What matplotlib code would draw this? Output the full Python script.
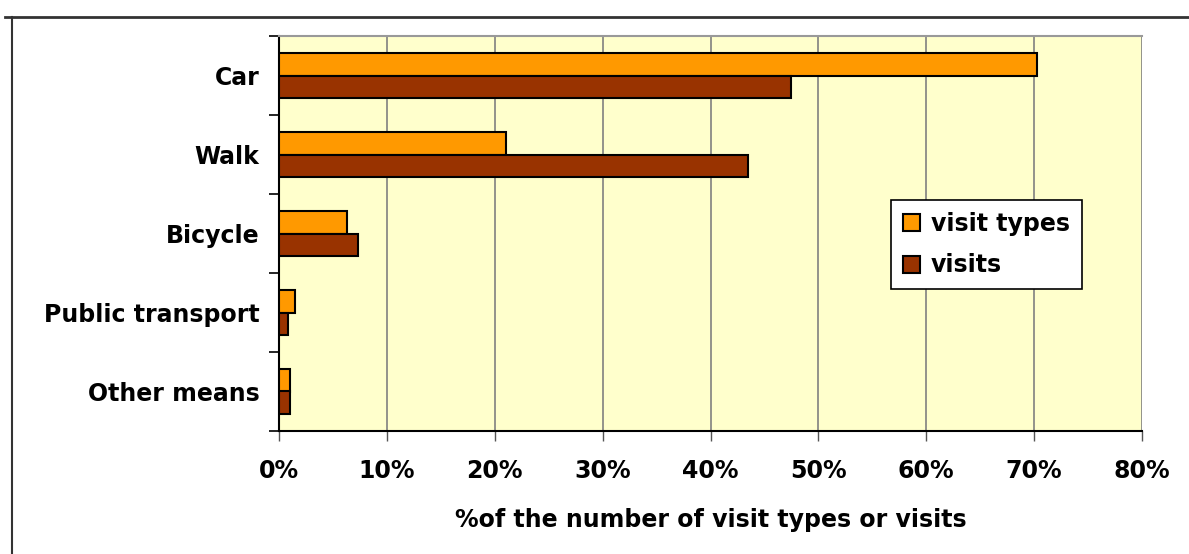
import numpy as np
import matplotlib.pyplot as plt
from matplotlib.lines import Line2D

categories = ['Car', 'Walk', 'Bicycle', 'Public transport', 'Other means']
visit_types = [70.3, 21.0, 6.3, 1.5, 1.0]
visits = [47.5, 43.5, 7.3, 0.8, 1.0]

plt.rcParams['font.family'] = ['DejaVu Sans']

fig = plt.figure(figsize=(11.89, 5.54), dpi=100)
ax = fig.add_axes([279 / 1189, 123 / 554, 863 / 1189, 395 / 554])
ax.set_facecolor('#FFFFCC')

y = np.arange(len(categories))
h = 0.28
ax.barh(y - h / 2, visit_types, height=h, color='#FF9900', edgecolor='black',
        linewidth=1.5, label='visit types', zorder=3)
ax.barh(y + h / 2, visits, height=h, color='#993300', edgecolor='black',
        linewidth=1.5, label='visits', zorder=3)

ax.set_xlim(0, 80)
ax.set_ylim(len(categories) - 0.5, -0.5)
ax.set_xticks(np.arange(0, 81, 10))
ax.set_xticklabels(['%d%%' % v for v in range(0, 81, 10)])
ax.set_yticks(y)
ax.set_yticklabels(categories)
ax.set_yticks(np.arange(-0.5, len(categories), 1), minor=True)
ax.tick_params(axis='y', which='major', length=0, pad=14, labelsize=17)
ax.tick_params(axis='y', which='minor', length=7, width=1.2, direction='out')
ax.tick_params(axis='x', length=7, width=1, direction='out', pad=13, labelsize=17,
               color='#555555')
for lbl in ax.get_xticklabels() + ax.get_yticklabels():
    lbl.set_fontweight('bold')

ax.grid(axis='x', color='#808080', linewidth=1.2, zorder=1)
ax.spines['top'].set_color('#999999')
ax.spines['top'].set_linewidth(1.5)
ax.spines['right'].set_visible(False)
ax.spines['left'].set_linewidth(1.5)
ax.spines['bottom'].set_linewidth(1.5)

ax.set_xlabel('%of the number of visit types or visits', fontsize=17,
              fontweight='bold', labelpad=18)

leg = ax.legend(loc='upper left', bbox_to_anchor=(0.709, 0.585),
                prop={'weight': 'bold', 'size': 17}, fancybox=False,
                framealpha=1, edgecolor='black', handlelength=0.75,
                handleheight=0.75, handletextpad=0.45, borderpad=0.5,
                labelspacing=0.75, borderaxespad=0)
leg.get_frame().set_linewidth(1.2)

fig.add_artist(Line2D([5 / 1189, 1], [1 - 17 / 554, 1 - 17 / 554],
                      transform=fig.transFigure, color='#333333', linewidth=2))
fig.add_artist(Line2D([12 / 1189, 12 / 1189], [0, 1 - 17 / 554],
                      transform=fig.transFigure, color='#333333', linewidth=1.5))

fig.savefig('out.png', dpi=100)
